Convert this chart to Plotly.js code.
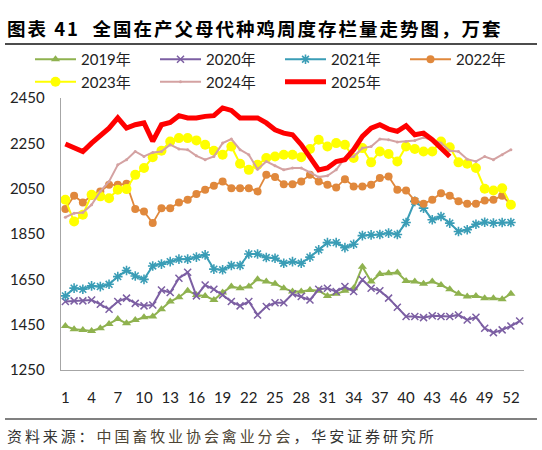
<!DOCTYPE html>
<html>
<head>
<meta charset="utf-8">
<script src="https://cdn.plot.ly/plotly-3.0.1.min.js"></script>
<style>html,body{margin:0;padding:0;background:#fff;}#chart{width:542px;height:450px;}</style>
</head>
<body>
<div id="chart"></div>
<script>
var weeks = [1,2,3,4,5,6,7,8,9,10,11,12,13,14,15,16,17,18,19,20,21,22,23,24,25,26,27,28,29,30,31,32,33,34,35,36,37,38,39,40,41,42,43,44,45,46,47,48,49,50,51,52,53];
var xTicks = [1,4,7,10,13,16,19,22,25,28,31,34,37,40,43,46,49,52];
var yTicks = [1250,1450,1650,1850,2050,2250,2450];
var seriesNames = ['2019年','2020年','2021年','2022年','2023年','2024年','2025年'];

var y2019 = [1444,1430,1427,1422,1434,1453,1475,1456,1471,1483,1486,1518,1552,1571,1600,1581,1577,1559,1592,1618,1611,1618,1650,1640,1630,1611,1596,1596,1603,1600,1577,1586,1600,1611,1706,1640,1674,1677,1680,1643,1640,1630,1640,1625,1606,1586,1574,1577,1567,1567,1562,1586];
var y2020 = [1552,1555,1555,1559,1540,1518,1552,1567,1544,1533,1537,1603,1592,1655,1681,1577,1625,1606,1581,1552,1533,1552,1493,1530,1547,1547,1586,1574,1559,1606,1611,1596,1618,1596,1648,1611,1600,1567,1527,1486,1486,1481,1489,1486,1486,1493,1471,1483,1434,1415,1427,1444,1466];
var y2021 = [1577,1611,1606,1621,1618,1628,1662,1689,1665,1650,1709,1717,1728,1739,1739,1748,1758,1695,1692,1711,1711,1762,1762,1746,1743,1721,1728,1721,1748,1780,1812,1812,1790,1805,1843,1846,1848,1854,1848,1901,1994,1964,1913,1927,1898,1861,1869,1893,1902,1898,1901,1901];
var y2022 = [1960,2019,1989,2019,2038,2067,2067,2072,1960,1949,1898,1964,1964,1989,2001,2027,2045,2063,2082,2052,2052,2052,2038,2111,2101,2070,2070,2082,2111,2082,2067,2055,2092,2060,2060,2067,2097,2104,2045,2042,1997,1983,2001,2030,2019,1994,1983,1983,1998,2001,2019,1979];
var y2023 = [2001,1905,1935,2023,2016,2008,2045,2048,2111,2141,2189,2217,2258,2273,2273,2263,2244,2217,2200,2236,2160,2133,2155,2185,2192,2200,2200,2189,2225,2266,2236,2251,2244,2185,2229,2166,2214,2203,2170,2236,2225,2214,2214,2258,2233,2166,2160,2141,2050,2042,2052,1979];
var y2024 = [1924,1942,1945,1979,2038,2082,2155,2178,2214,2192,2210,2214,2244,2225,2222,2195,2178,2192,2251,2269,2222,2200,2136,2170,2151,2133,2141,2141,2122,2101,2107,2133,2185,2192,2229,2236,2269,2266,2256,2258,2263,2276,2266,2251,2217,2214,2180,2170,2192,2178,2200,2222];
var y2025 = [2247,2229,2214,2251,2281,2317,2362,2317,2332,2340,2259,2332,2342,2372,2362,2362,2369,2372,2406,2395,2362,2362,2362,2340,2310,2295,2288,2244,2192,2133,2141,2170,2178,2222,2281,2317,2332,2313,2303,2328,2288,2295,2266,2229,2192];

var allY = [y2019,y2020,y2021,y2022,y2023,y2024,y2025];
var colors = ['#8FB24F','#7C5FA3','#3A9DB6','#E0883C','#FFFF00','#D4A2A2','#FF0000'];
var widths = [2,2,2,1.8,2,2,5];
var markers = [
  {symbol:'triangle-up', size:8},
  {symbol:'x-thin-open', size:7, line:{width:1.5}},
  {symbol:'asterisk-open', size:8, line:{width:1.6}},
  {symbol:'circle', size:8},
  {symbol:'circle', size:10},
  {symbol:'circle', size:3},
  {symbol:'circle', size:1}
];

var traces = allY.map(function(ys,i){
  var m = Object.assign({color:colors[i]}, markers[i]);
  if (m.line) m.line.color = colors[i];
  return {
    type:'scatter',
    mode: i===6 ? 'lines' : 'lines+markers',
    name: seriesNames[i],
    x: weeks.slice(0, ys.length),
    y: ys,
    line:{color:colors[i], width:widths[i]},
    marker:m,
    hoverinfo:'skip'
  };
});

var L = 61, W = 463, T = 98, H = 272;
function px(x){return (x-L)/W;}
function py(y){return (T+H-y)/H;}

var layout = {
  width:542, height:450,
  margin:{l:L, r:542-L-W, t:T, b:450-T-H, pad:0},
  paper_bgcolor:'#fff', plot_bgcolor:'#fff',
  font:{family:'Lato, "Noto Sans CJK SC", sans-serif', size:15, color:'#222'},
  title:{
    text:'图表 41  全国在产父母代种鸡周度存栏量走势图，万套',
    xref:'container', yref:'container',
    x:7/542, xanchor:'left', y:1-30/450, yanchor:'middle',
    font:{family:'"Noto Sans CJK SC", sans-serif', size:18.5, weight:700, color:'#000'}
  },
  showlegend:true,
  legend:{
    orientation:'h', xref:'paper', yref:'paper',
    x:px(30), xanchor:'left', y:py(43), yanchor:'top',
    entrywidth:69, entrywidthmode:'pixels', itemwidth:41,
    font:{family:'Lato, "Noto Sans CJK SC", sans-serif', size:15, color:'#222'},
    bgcolor:'rgba(0,0,0,0)', tracegroupgap:0
  },
  xaxis:{
    range:[0.5,53.5], tickmode:'array', tickvals:xTicks, ticktext:xTicks.map(String),
    showline:true, linecolor:'#A6A6A6', linewidth:1.3, showgrid:false, zeroline:false,
    ticks:'', ticklabelstandoff:14, tickfont:{size:15, color:'#222'}, fixedrange:true
  },
  yaxis:{
    range:[1250,2450], tickmode:'array', tickvals:yTicks, ticktext:yTicks.map(String),
    showline:true, linecolor:'#A6A6A6', linewidth:1.3, showgrid:false, zeroline:false,
    ticks:'', ticklabelstandoff:12, tickfont:{size:15, color:'#222'}, fixedrange:true
  },
  shapes:[
    {type:'line', xref:'paper', yref:'paper', x0:px(5), x1:px(537), y0:py(44), y1:py(44), line:{color:'#111', width:1.3}},
    {type:'line', xref:'paper', yref:'paper', x0:px(5), x1:px(537), y0:py(419), y1:py(419), line:{color:'#808080', width:2}}
  ],
  annotations:[
    {xref:'paper', yref:'paper', x:px(7), y:py(435), xanchor:'left', yanchor:'middle', showarrow:false,
     text:'资料来源：<span style="color:#4d4433">中国畜牧业协会禽业分会</span>，华安证券研究所',
     font:{family:'"Noto Sans CJK SC", sans-serif', size:15, color:'#333'}}
  ]
};

Plotly.newPlot('chart', traces, layout, {displayModeBar:false, staticPlot:true}).then(function(gd){
  var t = gd.querySelector('.gtitle');
  if (t) t.style.letterSpacing = '2px';
  var a = gd.querySelector('.annotation-text');
  if (a) {
    a.style.letterSpacing = '2.9px';
    var r = a.getBoundingClientRect();
    var host = gd.getBoundingClientRect();
    var dx = 7 - (r.left - host.left);
    a.setAttribute('transform', 'translate(' + dx + ',0)');
  }
});
</script>
</body>
</html>
